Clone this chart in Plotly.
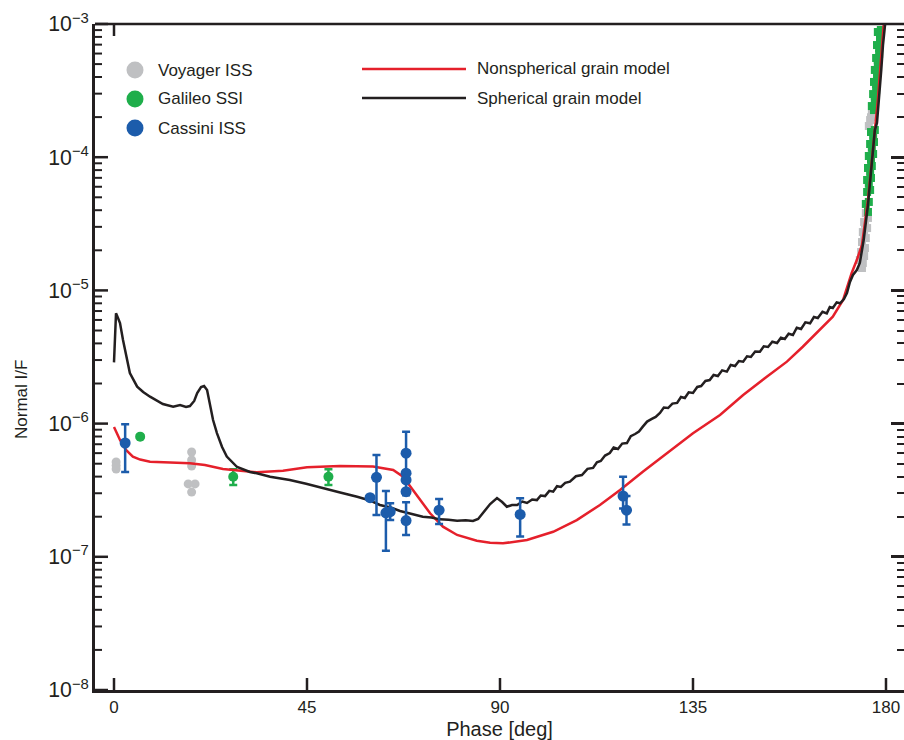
import plotly.graph_objects as go

# ---------------- data ----------------
# Cassini ISS (phase in deg, normal I/F, error-bar upper/lower bounds; None = no bar)
cassini_phase = [2.6, 59.7, 61.2, 63.4, 64.4, 68.1, 68.1, 68.1, 68.1, 68.1, 75.8, 94.7, 118.7, 119.5]
cassini_if = [7.15e-7, 2.78e-7, 3.95e-7, 2.14e-7, 2.18e-7, 6.0e-7, 4.24e-7, 3.78e-7, 3.08e-7,
              1.87e-7, 2.24e-7, 2.08e-7, 2.86e-7, 2.24e-7]
cassini_hi = [9.9e-7, None, 5.81e-7, 3.12e-7, 2.52e-7, 8.7e-7, None, None, None,
              2.57e-7, 2.72e-7, 2.75e-7, 3.99e-7, 2.86e-7]
cassini_lo = [4.33e-7, None, 2.06e-7, 1.11e-7, 1.89e-7, 2.9e-7, None, None, None,
              1.46e-7, 1.76e-7, 1.42e-7, 2.3e-7, 1.75e-7]

# Galileo SSI, low phase
galileo_phase = [6.1, 27.8, 50.0]
galileo_if = [7.98e-7, 3.99e-7, 3.99e-7]
galileo_hi = [None, 4.54e-7, 4.54e-7]
galileo_lo = [None, 3.46e-7, 3.46e-7]

# Galileo SSI, high phase (log10 I/F)
galileo_hp_phase = [178.8, 178.6, 178.4, 178.1, 177.9, 177.7, 177.4, 177.2,
                    178.1, 177.9, 177.7, 177.4, 177.2, 177.0, 176.7,
                    178.6, 178.4, 178.1, 177.9, 177.7, 177.4,
                    177.4, 177.2, 177.0, 176.7, 176.5, 176.3, 176.0, 175.8,
                    176.5, 176.3, 176.0, 175.8, 175.6, 175.6, 175.3,
                    177.0, 176.7, 176.5, 176.3, 176.0]
galileo_hp_log = [-3.045, -3.135, -3.225, -3.315, -3.405, -3.495, -3.586, -3.646,
                  -3.060, -3.158, -3.255, -3.345, -3.435, -3.526, -3.616,
                  -3.090, -3.180, -3.270, -3.360, -3.450, -3.540,
                  -3.796, -3.886, -3.976, -4.066, -4.156, -4.246, -4.336, -4.411,
                  -3.811, -3.901, -3.991, -4.081, -4.171, -4.261, -4.351,
                  -3.840, -3.930, -4.020, -4.110, -4.200]

# Voyager ISS (log10 I/F)
voyager_phase = [0.5, 0.5, 0.5, 18.1, 18.1, 18.1, 17.3, 18.9, 18.1]
voyager_log = [-6.288, -6.315, -6.341, -6.213, -6.273, -6.318, -6.453, -6.453, -6.514]
voyager_hp_phase = [176.7, 176.3, 176.0, 176.5,
                    175.8, 175.6, 175.3, 175.1, 174.9, 174.6, 174.4,
                    174.9, 174.6, 174.4, 174.2, 173.9,
                    175.3, 175.1, 174.9]
voyager_hp_log = [-3.676, -3.721, -3.766, -3.700,
                  -4.456, -4.532, -4.607, -4.682, -4.742, -4.794, -4.832,
                  -4.486, -4.562, -4.637, -4.712, -4.772,
                  -4.420, -4.500, -4.580]

# Nonspherical grain model (log10 I/F)
nonsph_phase = [0.0, 1.4, 2.8, 4.4, 6.1, 8.4, 13.1, 17.7, 21.2, 25.4, 33.3, 39.4, 45.0,
                52.7, 60.4, 65.1, 67.4, 70.6, 73.7, 76.7, 80.0, 84.6, 87.7, 90.7, 96.3,
                102.4, 107.9, 113.3, 118.0, 123.3, 128.9, 135.0, 141.3, 146.7, 152.2,
                156.9, 160.6, 164.6, 167.6, 170.0, 172.0, 173.2, 174.4, 175.8, 176.9,
                178.1, 179.0, 179.5]
nonsph_log = [-6.026, -6.123, -6.198, -6.248, -6.270, -6.286, -6.292, -6.298, -6.311,
              -6.341, -6.366, -6.354, -6.328, -6.318, -6.323, -6.348, -6.399, -6.536,
              -6.673, -6.774, -6.836, -6.879, -6.894, -6.899, -6.874, -6.812, -6.724,
              -6.611, -6.499, -6.361, -6.223, -6.073, -5.935, -5.785, -5.648, -5.535,
              -5.423, -5.297, -5.197, -5.072, -4.869, -4.772, -4.659, -4.321, -3.946,
              -3.571, -3.195, -3.000]

# Spherical grain model (log10 I/F)
sph_phase = [0.0, 0.47, 0.93, 1.4, 2.1, 2.8, 3.7, 5.4, 6.8, 8.4, 10.0, 11.4, 13.8, 15.4,
             16.8, 17.7, 18.7, 19.4, 20.3, 21.0, 21.7, 22.4, 23.1, 24.0, 25.2, 26.3, 28.7,
             31.7, 33.3, 36.4, 41.0, 44.8, 48.7, 52.5, 56.7, 59.5, 62.0, 64.5, 66.7, 69.5,
             72.0, 74.0, 76.0, 78.0, 80.0, 82.0, 83.7, 84.9, 86.0, 87.7, 89.3, 90.5, 91.6,
             92.8, 94.0, 95.2, 96.3, 97.5, 98.6, 99.5, 100.5, 101.5, 102.4, 103.3, 104.2,
             105.2, 106.3, 107.7, 109.1, 110.4, 111.7, 112.6, 113.5, 114.5, 115.6, 116.5,
             117.5, 118.5, 119.6, 120.5, 121.5, 122.4, 123.3, 124.3, 125.4, 126.3, 127.3,
             128.2, 129.2, 130.2, 131.3, 132.2, 133.1, 134.0, 135.0, 136.0, 136.9, 137.9,
             138.9, 139.8, 140.8, 141.8, 142.9, 143.8, 144.8, 145.7, 146.7, 147.6, 148.5,
             149.5, 150.6, 151.5, 152.5, 153.5, 154.6, 155.5, 156.4, 157.3, 158.3, 159.2,
             160.2, 161.2, 162.3, 163.2, 164.1, 165.2, 166.2, 166.9, 167.6, 168.5, 169.3,
             170.2, 170.9, 171.6, 172.3, 173.2, 173.9, 174.8, 175.8, 176.7, 177.4, 177.9,
             178.4, 178.9, 179.3, 179.8]
sph_log = [-5.54, -5.172, -5.207, -5.245, -5.372, -5.492, -5.620, -5.723, -5.763, -5.798,
           -5.830, -5.853, -5.873, -5.860, -5.875, -5.868, -5.830, -5.770, -5.725, -5.718,
           -5.748, -5.860, -5.973, -6.071, -6.176, -6.248, -6.326, -6.363, -6.373, -6.399,
           -6.423, -6.452, -6.486, -6.515, -6.549, -6.575, -6.611, -6.630, -6.656, -6.680,
           -6.699, -6.705, -6.719, -6.722, -6.729, -6.725, -6.731, -6.716, -6.671, -6.604,
           -6.559, -6.589, -6.624, -6.611, -6.611, -6.585, -6.596, -6.570, -6.574, -6.540,
           -6.544, -6.505, -6.511, -6.470, -6.476, -6.445, -6.436, -6.395, -6.386, -6.340,
           -6.333, -6.290, -6.281, -6.240, -6.221, -6.180, -6.191, -6.150, -6.146, -6.095,
           -6.078, -6.060, -6.023, -5.985, -5.965, -5.950, -5.920, -5.880, -5.883, -5.850,
           -5.845, -5.800, -5.808, -5.765, -5.770, -5.725, -5.718, -5.680, -5.673, -5.635,
           -5.643, -5.600, -5.610, -5.560, -5.568, -5.530, -5.535, -5.495, -5.500, -5.458,
           -5.460, -5.420, -5.425, -5.385, -5.395, -5.355, -5.365, -5.325, -5.335, -5.280,
           -5.290, -5.240, -5.247, -5.200, -5.207, -5.160, -5.172, -5.125, -5.132, -5.090,
           -5.097, -5.065, -5.020, -4.937, -4.884, -4.847, -4.794, -4.622, -4.359, -4.021,
           -3.796, -3.743, -3.571, -3.345, -3.158, -3.000]

x_ticks = [0, 45, 90, 135, 180]
decades = [-8, -7, -6, -5, -4, -3]

# ---------------- styling ----------------
FONT = "Liberation Sans, Arial, Helvetica, sans-serif"
INK = "#231f20"
RED = "#e5202b"
BLUE = "#1c5cab"
GREEN = "#1fae4b"
GRAY = "#bfc0c2"

W, H = 904, 740
ML, MR, MT, MB = 95, 0, 24, 50
PW, PH = W - ML - MR, H - MT - MB
X_RANGE = [-4.43, 184.2]
Y_RANGE = [-8, -3]


def fx(xpix):
    return (xpix - ML) / PW


def fy(ypix):
    return (H - MB - ypix) / PH


def ylog_frac(logval):
    return (logval - Y_RANGE[0]) / (Y_RANGE[1] - Y_RANGE[0])


def pw(vals):
    return [10 ** v for v in vals]


def with_bars(phase, val, hi, lo):
    idx = [i for i, h in enumerate(hi) if h is not None]
    return ([phase[i] for i in idx], [val[i] for i in idx],
            [hi[i] - val[i] for i in idx], [val[i] - lo[i] for i in idx])


fig = go.Figure()

# Voyager points
fig.add_trace(go.Scatter(x=voyager_phase, y=pw(voyager_log), mode="markers",
                         marker=dict(color=GRAY, size=9), showlegend=False))
fig.add_trace(go.Scatter(x=voyager_hp_phase, y=pw(voyager_hp_log), mode="markers",
                         marker=dict(color=GRAY, size=8, symbol="square"), showlegend=False))

# Galileo points
bx, by, bup, bdn = with_bars(galileo_phase, galileo_if, galileo_hi, galileo_lo)
fig.add_trace(go.Scatter(x=bx, y=by, mode="markers",
                         marker=dict(size=1, color="rgba(0,0,0,0)"),
                         error_y=dict(type="data", array=bup, arrayminus=bdn, color=GREEN,
                                      thickness=2.5, width=4),
                         showlegend=False, hoverinfo="skip"))
fig.add_trace(go.Scatter(x=galileo_phase, y=galileo_if, mode="markers",
                         marker=dict(color=GREEN, size=10), showlegend=False))
fig.add_trace(go.Scatter(x=galileo_hp_phase, y=pw(galileo_hp_log), mode="markers",
                         marker=dict(color=GREEN, size=8, symbol="square"), showlegend=False))

# Model curves (the spherical one sits on the right-hand twin axis, same range)
fig.add_trace(go.Scatter(x=nonsph_phase, y=pw(nonsph_log), mode="lines",
                         line=dict(color=RED, width=2.5), showlegend=False))
fig.add_trace(go.Scatter(x=sph_phase, y=pw(sph_log), mode="lines", yaxis="y2",
                         line=dict(color=INK, width=2.5), showlegend=False))

# Cassini points
bx, by, bup, bdn = with_bars(cassini_phase, cassini_if, cassini_hi, cassini_lo)
fig.add_trace(go.Scatter(x=bx, y=by, mode="markers", yaxis="y2",
                         marker=dict(size=1, color="rgba(0,0,0,0)"),
                         error_y=dict(type="data", array=bup, arrayminus=bdn, color=BLUE,
                                      thickness=2.5, width=4),
                         showlegend=False, hoverinfo="skip"))
fig.add_trace(go.Scatter(x=cassini_phase, y=cassini_if, mode="markers", yaxis="y2",
                         marker=dict(color=BLUE, size=11), showlegend=False))

shapes = []

# frame top and inward tick marks on the left and bottom edges
shapes.append(dict(type="line", xref="paper", yref="paper", x0=0, x1=1, y0=1, y1=1,
                   line=dict(color=INK, width=2.5)))
for d in decades:
    yf = ylog_frac(d)
    shapes.append(dict(type="line", xref="paper", yref="paper", x0=0, x1=13 / PW,
                       y0=yf, y1=yf, line=dict(color=INK, width=2.5)))
    if d < Y_RANGE[1]:
        for m in range(2, 10):
            ym = ylog_frac(d + __import__("math").log10(m))
            shapes.append(dict(type="line", xref="paper", yref="paper", x0=0, x1=7 / PW,
                               y0=ym, y1=ym, line=dict(color=INK, width=2)))
for v in x_ticks:
    shapes.append(dict(type="line", xref="x", yref="paper", x0=v, x1=v,
                       y0=0, y1=12 / PH, line=dict(color=INK, width=2.5)))
shapes.append(dict(type="line", xref="x", yref="paper", x0=x_ticks[0], x1=x_ticks[0],
                   y0=1, y1=1 - 12 / PH, line=dict(color=INK, width=2.5)))

# key: instrument markers and model lines
annotations = []
for label, col, ypix in [("Voyager ISS", GRAY, 70), ("Galileo SSI", GREEN, 99),
                         ("Cassini ISS", BLUE, 128)]:
    shapes.append(dict(type="circle", xref="paper", yref="paper",
                       xsizemode="pixel", ysizemode="pixel",
                       xanchor=fx(135), yanchor=fy(ypix),
                       x0=-8.5, x1=8.5, y0=-8.5, y1=8.5,
                       fillcolor=col, line=dict(width=0)))
    annotations.append(dict(text=label, xref="paper", yref="paper", x=fx(156), y=fy(ypix),
                            xanchor="left", yanchor="middle", showarrow=False,
                            font=dict(size=17, color=INK, family=FONT)))
for label, col, ypix in [("Nonspherical grain model", RED, 69),
                         ("Spherical grain model", INK, 98)]:
    shapes.append(dict(type="line", xref="paper", yref="paper",
                       x0=fx(362), x1=fx(466), y0=fy(ypix), y1=fy(ypix),
                       line=dict(color=col, width=2.5)))
    annotations.append(dict(text=label, xref="paper", yref="paper", x=fx(475), y=fy(ypix),
                            xanchor="left", yanchor="middle", showarrow=False,
                            font=dict(size=17, color=INK, family=FONT)))

annotations.append(dict(text="Normal I/F", xref="paper", yref="paper", x=fx(22), y=fy(400),
                        xanchor="center", yanchor="middle", textangle=-90, showarrow=False,
                        font=dict(size=17, color=INK, family=FONT)))

fig.update_layout(
    width=W, height=H,
    margin=dict(l=ML, r=MR, t=MT, b=MB),
    plot_bgcolor="white",
    font=dict(family=FONT, size=17, color=INK),
    shapes=shapes, annotations=annotations,
    showlegend=False,
    xaxis=dict(
        range=X_RANGE, tickvals=x_ticks, ticks="",
        showline=True, linewidth=2.5, linecolor=INK,
        showgrid=False, zeroline=False,
        title=dict(text="Phase [deg]", standoff=6),
    ),
    yaxis=dict(
        type="log", range=Y_RANGE, dtick=1, exponentformat="power", ticks="",
        showline=True, linewidth=2.5, linecolor=INK,
        showgrid=False,
    ),
    yaxis2=dict(
        overlaying="y", side="right", anchor="x",
        type="log", range=Y_RANGE, dtick=1, showticklabels=False,
        ticks="inside", ticklen=13, tickwidth=2.5, tickcolor=INK,
        minor=dict(ticks="inside", ticklen=7, tickwidth=2, tickcolor=INK),
        showline=True, linewidth=2.5, linecolor=INK,
        showgrid=False,
    ),
)

fig.write_html("out.html")
